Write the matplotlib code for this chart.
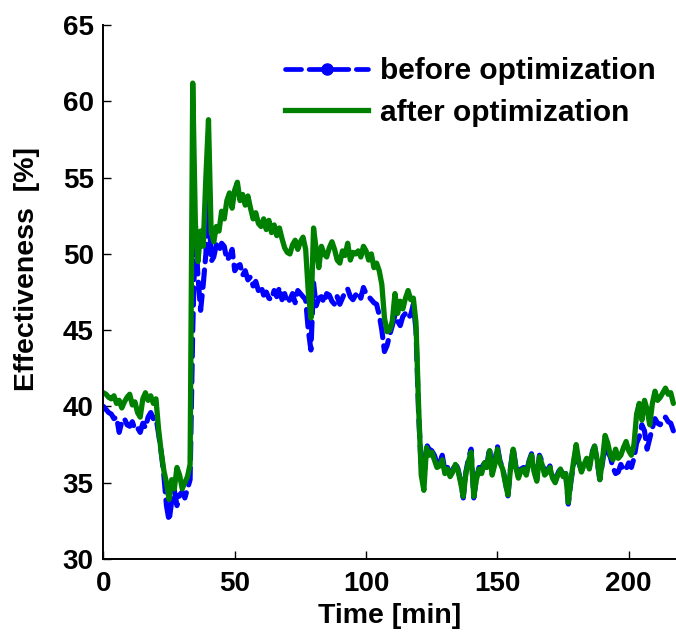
import numpy as np
import matplotlib
matplotlib.use("Agg")
import matplotlib.pyplot as plt
from matplotlib.lines import Line2D

plt.rcParams['font.family'] = ['Liberation Sans', 'DejaVu Sans']
plt.rcParams['font.weight'] = 'bold'

# Effectiveness [%] sampled once per minute
before_opt = [
    40.0, 39.8, 39.6, 39.5, 39.2, 39.3, 38.3, 39.0, 39.2, 38.8,
    38.7, 39.0, 38.5, 38.6, 38.3, 38.9, 38.6, 39.3, 39.6, 39.2,
    39.3, 38.2, 37.0, 35.5, 33.5, 32.5, 33.8, 34.5, 33.5, 34.2,
    34.4, 34.0, 34.6, 35.2, 45.0, 51.6, 48.5, 46.3, 48.0, 50.0,
    54.5, 49.5, 49.8, 50.6, 50.2, 50.7, 50.5, 49.6, 49.8, 50.3,
    48.9, 49.2, 49.3, 48.6, 48.9, 48.3, 48.5, 47.9, 48.2, 47.6,
    47.9, 47.3, 47.5, 47.1, 47.0, 47.6, 47.2, 47.8, 47.0, 47.4,
    46.8, 47.0, 47.4, 46.8, 47.6, 47.4, 47.2, 47.0, 45.0, 43.7,
    48.1, 46.6, 47.1, 47.2, 46.8, 47.4, 47.3, 46.9, 46.7, 47.2,
    46.7, 47.1, 47.5, 47.7, 47.2, 47.0, 47.3, 47.5, 47.1, 47.8,
    47.4, 47.2, 47.0, 46.8, 46.7, 46.0, 45.0, 43.6, 44.0, 44.7,
    45.3, 46.0, 45.6, 45.3, 45.9, 46.1, 45.8, 46.0, 46.7, 45.0,
    39.5, 36.0, 35.0, 37.5, 37.2, 37.1, 36.8, 36.3, 36.2, 36.8,
    35.8, 36.0, 35.5, 35.8, 36.3, 35.9, 35.1, 34.0, 35.7, 36.6,
    37.2, 34.0, 35.3, 36.0, 35.8, 36.5, 36.1, 37.3, 35.6, 36.4,
    37.4, 36.4, 36.0, 35.1, 34.1, 36.0, 37.3, 36.1, 35.4, 35.9,
    36.0, 35.6, 36.4, 36.9, 35.8, 35.2, 36.8, 36.4, 35.6, 35.8,
    36.1, 35.4, 35.1, 35.6, 36.0, 35.5, 35.6, 33.6, 35.1, 36.2,
    37.3, 36.3, 35.8, 36.1, 36.5, 36.0, 37.0, 37.4, 36.4, 35.2,
    36.3, 37.5, 37.0, 36.7, 36.0, 35.6, 35.7, 36.2, 35.8, 35.9,
    36.3, 36.0, 36.6, 37.6, 38.0, 38.8, 38.4, 37.2, 37.9, 38.6,
    39.2, 38.9, 38.8, 39.1, 39.3, 39.0, 38.9, 38.4,
]

after_opt = [
    40.9, 40.8, 40.6, 40.5, 40.7, 40.2, 40.4, 39.9, 40.3, 40.6,
    40.8, 40.1, 40.3, 39.6, 39.3, 40.5, 40.9, 40.4, 40.7, 40.2,
    40.5, 38.5, 37.0, 35.8, 35.0, 33.9, 35.2, 34.6, 36.0, 35.5,
    34.6, 35.0, 35.4, 36.2, 61.2, 52.0, 49.5, 51.5, 50.5, 55.0,
    58.8, 51.5, 50.8, 51.8, 51.5, 52.8, 52.3, 53.5, 54.0, 53.0,
    54.2, 54.7, 53.5, 53.9, 53.2, 53.8, 53.0, 52.3, 52.7, 52.0,
    51.8, 52.3, 51.6, 52.2, 51.4, 51.9, 51.2, 51.7, 51.0, 50.4,
    50.1, 50.0, 50.6, 50.9, 50.3, 50.8, 51.1, 50.3, 47.5, 45.8,
    51.7, 50.3, 49.1, 50.5, 50.0, 49.8, 50.4, 50.8, 50.3, 49.6,
    49.4, 50.2, 49.9, 50.7, 49.6, 50.1, 50.0, 50.2, 49.8, 50.5,
    50.2, 49.6, 50.0, 49.1, 49.4, 48.9, 48.0, 45.8, 44.9, 45.0,
    45.6, 47.4, 46.1, 46.9, 46.4, 47.1, 47.6, 47.0, 47.1, 45.5,
    40.0, 35.5, 34.5, 37.3, 36.8, 37.0, 36.5, 36.0, 36.1, 36.5,
    35.6, 35.9, 35.4, 35.7, 36.2, 35.8, 35.0, 34.1, 35.6, 36.4,
    37.0, 34.1, 35.2, 35.9, 35.6, 36.3, 36.0, 37.1, 35.5, 36.2,
    37.2, 36.3, 35.9, 35.0, 34.2, 35.9, 37.2, 36.0, 35.3, 35.8,
    35.9, 35.5, 36.3, 36.8, 35.7, 35.1, 36.7, 36.2, 35.5, 35.7,
    36.0, 35.3, 35.0, 35.5, 35.9, 35.4, 35.6, 33.7, 35.2, 36.4,
    37.5, 36.4, 35.7, 36.2, 36.6, 35.9, 36.9, 37.4, 36.5, 35.2,
    36.5, 38.1, 37.6, 36.8, 36.5, 37.2, 36.6, 36.8, 37.3, 37.7,
    37.1, 36.8, 37.5, 39.5, 40.2, 39.1, 40.4, 39.8, 38.8, 40.2,
    41.0, 40.4, 40.6, 40.9, 41.2, 40.8, 40.9, 40.2,
]

labels = ['before optimization', 'after optimization']
x_ticks = [0, 50, 100, 150, 200]
y_ticks = [30, 35, 40, 45, 50, 55, 60, 65]

t_before = np.arange(len(before_opt))
t_after = np.arange(len(after_opt))

blue = (0, 0, 1)
green = (0, 0.5, 0)
dash = (0, (3.4, 1.6))

fig = plt.figure(figsize=(6.76, 6.37), dpi=100)
ax = fig.add_axes([0.153, 0.1225, 0.847, 0.838])

ax.plot(t_before, before_opt, color=blue, lw=3.7, ls=dash,
        dash_capstyle='round', dash_joinstyle='round')
ax.plot(t_after, after_opt, color=green, lw=3.8, solid_joinstyle='round',
        solid_capstyle='round')

ax.set_xlim(0, 218)
ax.set_ylim(30, 65)
ax.set_xticks(x_ticks)
ax.set_yticks(y_ticks)

for s in ('top', 'right'):
    ax.spines[s].set_visible(False)
for s in ('left', 'bottom'):
    ax.spines[s].set_linewidth(1.4)

ax.tick_params(direction='in', length=6, width=1, labelsize=20, pad=7)
ax.tick_params(axis='x', pad=9)
for lbl in ax.get_xticklabels() + ax.get_yticklabels():
    lbl.set_fontweight('bold')

ax.set_xlabel('Time [min]', fontsize=20.5, fontweight='bold', labelpad=4)
ax.set_ylabel('Effectiveness  [%]', fontsize=20.5, fontweight='bold')
ax.yaxis.set_label_coords(-0.11, 0.543)

handles = [
    Line2D([], [], color=blue, lw=3.4, ls=dash, marker='o',
           markersize=8, dash_capstyle='round'),
    Line2D([], [], color=green, lw=3.8),
]
ax.legend(handles, labels, loc='upper right', bbox_to_anchor=(1.021, 1.0),
          frameon=False, prop={'size': 21.5, 'weight': 'bold'},
          handlelength=2.8, handletextpad=0.4, labelspacing=0.45,
          numpoints=1, borderaxespad=0.67)

fig.savefig('out.png', dpi=100)
